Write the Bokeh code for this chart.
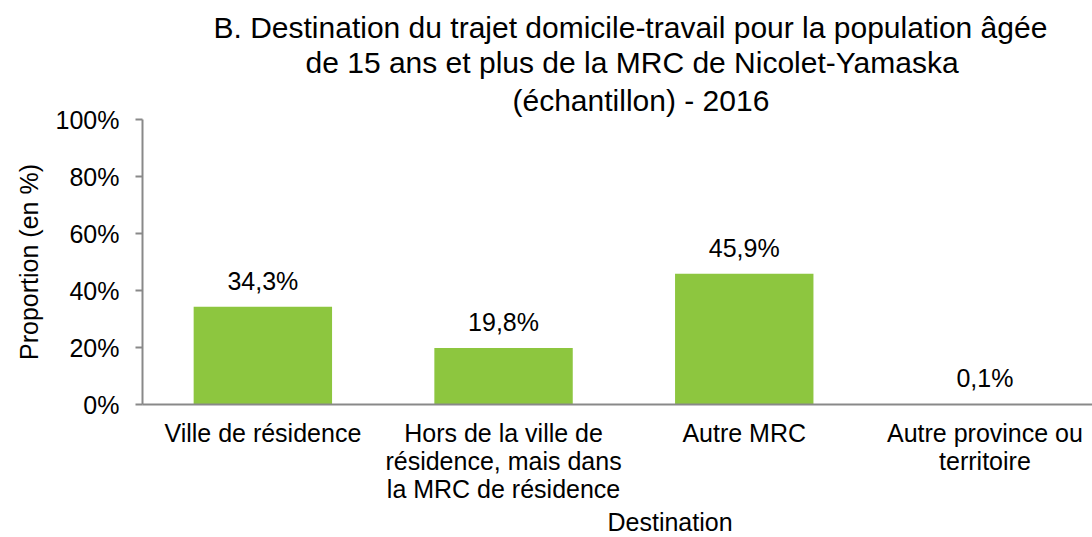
from bokeh.plotting import figure
from bokeh.models import FixedTicker, PrintfTickFormatter, ColumnDataSource, Range1d, Title
from bokeh.core.properties import value as V
from bokeh.embed import file_html
from bokeh.resources import INLINE

categories = ["Ville de résidence",
              "Hors de la ville de\nrésidence, mais dans\nla MRC de résidence",
              "Autre MRC",
              "Autre province ou\nterritoire"]
values = [34.3, 19.8, 45.9, 0.1]
value_labels = ["34,3%", "19,8%", "45,9%", "0,1%"]
y_ticks = [0, 20, 40, 60, 80, 100]
title_lines = ["B. Destination du trajet domicile-travail pour la population âgée",
               "de 15 ans et plus de la MRC de Nicolet-Yamaska",
               "(échantillon) - 2016"]
x_title = "Destination"
y_title = "Proportion (en %)"

FONT = "Liberation Sans"
FS = "25px"
TFS = "30px"
W, H = 1092, 537
LEFT, TOP, BOTTOM = 142, 119, 133
frame_w = W - LEFT
cat_w = 240.7

xs = [i + 0.5 for i in range(len(categories))]
src = ColumnDataSource(dict(x=xs, top=values, lab=value_labels))

p = figure(width=W, height=H, output_backend="svg", toolbar_location=None,
           x_range=Range1d(0, frame_w / cat_w), y_range=Range1d(0, 100),
           min_border_left=LEFT, min_border_right=0, min_border_top=TOP,
           min_border_bottom=BOTTOM)
p.outline_line_color = None
p.background_fill_color = "white"
p.border_fill_color = "white"
p.xgrid.visible = False
p.ygrid.visible = False
p.title.visible = False

p.vbar(x="x", top="top", width=0.575, source=src, fill_color="#8DC63F", line_color=None)
p.text(x="x", y="top", text="lab", source=src, text_align="center",
       text_baseline="alphabetic", y_offset=-26, text_font=V(FONT),
       text_font_size=FS, text_color="#000000")

# y axis
ya = p.yaxis[0]
ya.ticker = FixedTicker(ticks=y_ticks)
ya.formatter = PrintfTickFormatter(format="%d%%")
ya.axis_line_color = "#898989"
ya.axis_line_width = 2
ya.major_tick_line_color = "#898989"
ya.major_tick_line_width = 2
ya.major_tick_in = 0
ya.major_tick_out = 7
ya.minor_tick_line_color = None
ya.major_label_standoff = 16
ya.major_label_text_font = FONT
ya.major_label_text_font_size = FS
ya.major_label_text_color = "#000000"
ya.axis_label = y_title
ya.axis_label_text_font = FONT
ya.axis_label_text_font_size = FS
ya.axis_label_text_font_style = "normal"
ya.axis_label_text_color = "#000000"
ya.axis_label_standoff = 10

# x axis
xa = p.xaxis[0]
xa.ticker = FixedTicker(ticks=xs)
xa.major_label_overrides = {x: c for x, c in zip(xs, categories)}
xa.axis_line_color = "#898989"
xa.axis_line_width = 2
xa.major_tick_line_color = None
xa.major_tick_in = 0
xa.major_tick_out = 0
xa.minor_tick_line_color = None
xa.major_label_standoff = 14
xa.major_label_text_font = FONT
xa.major_label_text_font_size = FS
xa.major_label_text_color = "#000000"
xa.major_label_text_line_height = 1.0

# x axis title, placed below the tick labels
p.add_layout(Title(text=x_title, align="left", offset=607 - LEFT, standoff=0,
                   text_font=FONT, text_font_size=FS, text_font_style="normal",
                   text_color="#000000"), "below")

# title lines: nearest to the frame first
title_lefts = [213, 305, 512]
title_standoffs = [0, 0, 6]
for t, lft, so in reversed(list(zip(title_lines, title_lefts, title_standoffs))):
    p.add_layout(Title(text=t, align="left", offset=lft - LEFT, standoff=so,
                       text_font=FONT, text_font_size=TFS, text_font_style="normal",
                       text_line_height=1.0, text_color="#000000"), "above")

open("out.html", "w").write(file_html(p, INLINE))
